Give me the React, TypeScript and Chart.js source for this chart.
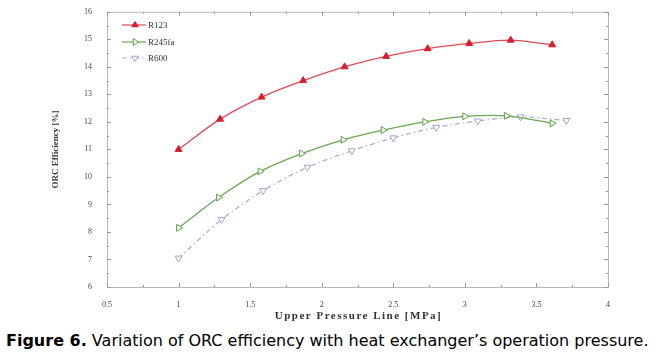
import React, { useEffect, useRef } from "react";
import { Chart, registerables } from "chart.js";

Chart.register(...registerables);

const seriesNames = ["R123", "R245fa", "R600"];
const pressureR123 = [1.0, 1.29, 1.58, 1.87, 2.16, 2.45, 2.74, 3.03, 3.32, 3.61];
const effR123 = [11.0, 12.1, 12.9, 13.5, 14.0, 14.38, 14.66, 14.85, 14.97, 14.8];
const pressureR245fa = [1.0, 1.28, 1.57, 1.86, 2.15, 2.43, 2.72, 3.0, 3.29, 3.61];
const effR245fa = [8.15, 9.25, 10.2, 10.85, 11.35, 11.7, 12.0, 12.2, 12.22, 11.95];
const pressureR600 = [1.0, 1.3, 1.59, 1.9, 2.21, 2.5, 2.8, 3.09, 3.39, 3.71];
const effR600 = [7.05, 8.45, 9.5, 10.35, 10.95, 11.42, 11.8, 12.03, 12.18, 12.05];
const xTicks = [0.5, 1, 1.5, 2, 2.5, 3, 3.5, 4];
const yTicks = [6, 7, 8, 9, 10, 11, 12, 13, 14, 15, 16];
const xTitle = "Upper Pressure Line [MPa]";
const yTitle = "ORC Efficiency [%]";
const captionBold = "Figure 6.";
const captionText = " Variation of ORC efficiency with heat exchanger\u2019s operation pressure.";

const colors = ["#d81e2c", "#5c9e45", "#a3a3cc"];
const lineColors = ["#e04a55", "#6aa855", "#b0b0d0"];
const pointStyles = ["triangle", "triangle", "triangle"];
const rotations = [0, 90, 180];
const dashes: number[][] = [[], [], [5, 3, 1.5, 3]];

const toPts = (xs: number[], ys: number[]) => xs.map((x, i) => ({ x, y: ys[i] }));

function drawMarker(ctx: CanvasRenderingContext2D, x: number, y: number, i: number) {
  const r = 3.5;
  ctx.save();
  ctx.translate(x, y);
  ctx.rotate((rotations[i] * Math.PI) / 180);
  ctx.beginPath();
  const h = r * 1.5;
  ctx.moveTo(0, -r);
  ctx.lineTo(r * 0.95, h - r);
  ctx.lineTo(-r * 0.95, h - r);
  ctx.closePath();
  ctx.lineWidth = 1;
  ctx.strokeStyle = colors[i];
  ctx.fillStyle = i === 0 ? colors[i] : "#fff";
  ctx.fill();
  ctx.stroke();
  ctx.restore();
}

const framePlugin = {
  id: "frame",
  afterDraw(chart: any) {
    const { ctx, chartArea: a, scales } = chart;
    const xs = scales.x;
    const ys = scales.y;
    ctx.save();
    ctx.strokeStyle = "#b8b8b8";
    ctx.lineWidth = 1;
    ctx.strokeRect(a.left + 0.5, a.top + 0.5, a.right - a.left, a.bottom - a.top);
    ctx.strokeStyle = "#999";
    ctx.beginPath();
    for (let v = 0.5; v <= 4.001; v += 0.25) {
      const px = Math.round(xs.getPixelForValue(v)) + 0.5;
      const major = Math.abs(v * 2 - Math.round(v * 2)) < 1e-6;
      const len = major ? 4 : 2;
      ctx.moveTo(px, a.bottom);
      ctx.lineTo(px, a.bottom - len);
      ctx.moveTo(px, a.top);
      ctx.lineTo(px, a.top + len);
    }
    for (let v = 6; v <= 16.001; v += 0.5) {
      const py = Math.round(ys.getPixelForValue(v)) + 0.5;
      const major = Math.abs(v - Math.round(v)) < 1e-6;
      const len = major ? 4 : 2;
      ctx.moveTo(a.left, py);
      ctx.lineTo(a.left + len, py);
      ctx.moveTo(a.right, py);
      ctx.lineTo(a.right - len, py);
    }
    ctx.stroke();

    // titles
    ctx.fillStyle = "#333";
    ctx.font = "bold 11px 'Liberation Serif', serif";
    ctx.textAlign = "center";
    ctx.textBaseline = "middle";
    (ctx as any).letterSpacing = "1.5px";
    ctx.fillText(xTitle, (a.left + a.right) / 2 + 1, 316);
    (ctx as any).letterSpacing = "0px";
    ctx.save();
    ctx.translate(56, (a.top + a.bottom) / 2);
    ctx.rotate(-Math.PI / 2);
    ctx.font = "bold 9px 'Liberation Serif', serif";
    ctx.fillText(yTitle, 0, 0);
    ctx.restore();

    // legend
    const rowsY = [25, 42, 58];
    seriesNames.forEach((name, i) => {
      const y = rowsY[i];
      ctx.save();
      ctx.strokeStyle = lineColors[i];
      ctx.lineWidth = 1.2;
      ctx.setLineDash(dashes[i]);
      ctx.beginPath();
      ctx.moveTo(122, y);
      ctx.lineTo(146, y);
      ctx.stroke();
      ctx.restore();
      drawMarker(ctx, 135, y, i);
      ctx.fillStyle = "#333";
      ctx.font = "9px 'Liberation Serif', serif";
      ctx.textAlign = "left";
      ctx.fillText(name, 148, y + 0.5);
    });
    ctx.restore();
  },
};

export default function App() {
  const ref = useRef<HTMLCanvasElement>(null);
  useEffect(() => {
    if (!ref.current) return;
    const datasets = [
      toPts(pressureR123, effR123),
      toPts(pressureR245fa, effR245fa),
      toPts(pressureR600, effR600),
    ].map((data, i) => ({
      label: seriesNames[i],
      data,
      borderColor: lineColors[i],
      borderWidth: 1.3,
      borderDash: dashes[i],
      backgroundColor: i === 0 ? colors[i] : "#fff",
      pointBorderColor: colors[i],
      pointBackgroundColor: i === 0 ? colors[i] : "rgba(255,255,255,0.9)",
      pointStyle: pointStyles[i] as any,
      pointRotation: rotations[i],
      pointRadius: 4,
      pointBorderWidth: 1,
      tension: 0.3,
      fill: false,
    }));
    const chart = new Chart(ref.current, {
      type: "line",
      data: { datasets },
      options: {
        responsive: false,
        animation: false,
        devicePixelRatio: 1,
        layout: { padding: { left: 0, right: 51, top: 11, bottom: 0 } },
        plugins: { legend: { display: false }, tooltip: { enabled: false } },
        scales: {
          x: {
            type: "linear",
            min: 0.5,
            max: 4,
            afterFit: (s: any) => {
              s.height = 43;
            },
            afterBuildTicks: (s: any) => {
              s.ticks = xTicks.map((v) => ({ value: v }));
            },
            grid: { display: false },
            border: { display: false },
            ticks: {
              padding: 5,
              color: "#444",
              font: { family: "'Liberation Serif', serif", size: 8 },
              maxRotation: 0,
              callback: (v: any) => String(v),
            },
          },
          y: {
            type: "linear",
            min: 6,
            max: 16,
            afterFit: (s: any) => {
              s.width = 107;
            },
            afterBuildTicks: (s: any) => {
              s.ticks = yTicks.map((v) => ({ value: v }));
            },
            grid: { display: false },
            border: { display: false },
            ticks: {
              padding: 7,
              color: "#444",
              font: { family: "'Liberation Serif', serif", size: 8 },
              callback: (v: any) => String(v),
            },
          },
        },
      },
      plugins: [framePlugin],
    });
    return () => chart.destroy();
  }, []);

  return (
    <div style={{ position: "fixed", left: 0, top: 0, width: 659, height: 354, background: "#fff" }}>
      <canvas ref={ref} width={659} height={330} style={{ display: "block", width: 659, height: 330 }} />
      <div
        style={{
          position: "absolute",
          left: 6,
          top: 331,
          fontFamily: "'DejaVu Sans', Verdana, sans-serif",
          fontSize: 16,
          lineHeight: "20px",
          whiteSpace: "nowrap",
          color: "#000",
        }}
      >
        <b>{captionBold}</b>
        {captionText}
      </div>
    </div>
  );
}
